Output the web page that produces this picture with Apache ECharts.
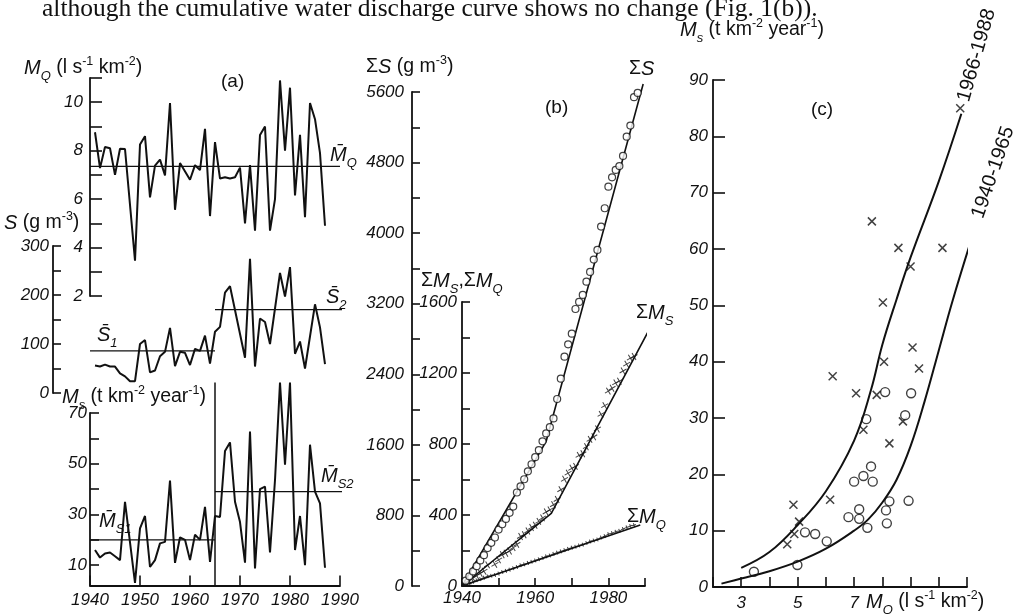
<!DOCTYPE html>
<html><head><meta charset="utf-8">
<script src="https://cdn.jsdelivr.net/npm/echarts@6/dist/echarts.min.js"></script>
<style>html,body{margin:0;padding:0;background:#fff}#c{width:1023px;height:614px}</style>
</head><body><div id="c"></div>
<script>
// ---------- Panel (a) ----------
const mqYears = [1941,1942,1943,1944,1945,1946,1947,1949,1950,1951,1952,1953,1954,1955,1956,1957,1958,1960,1961,1962,1963,1964,1965,1966,1967,1968,1969,1970,1971,1972,1973,1974,1975,1976,1977,1978,1979,1980,1981,1982,1983,1984,1985,1986,1987];
const mqValues = [8.76,7.28,8.15,8.1,7.0,8.08,8.07,3.46,8.25,8.6,6.07,7.38,7.63,6.98,9.97,5.56,7.49,6.8,7.4,7.2,8.9,5.3,8.35,6.85,6.9,6.85,6.9,7.3,5.0,7.4,4.7,8.65,9.0,4.7,6.0,10.9,8.0,10.6,6.15,8.65,5.25,9.97,9.3,7.9,4.9];
const mqMean = 7.35;

const sYears = [1941,1942,1943,1944,1945,1946,1947,1948,1949,1950,1951,1952,1953,1954,1955,1956,1957,1958,1959,1960,1961,1962,1963,1964,1965,1966,1967,1968,1971,1972,1973,1974,1975,1976,1978,1979,1980,1981,1982,1983,1985,1986,1987];
const sValues = [56,54,58,54,54,40,34,24,24,100,108,42,46,75,84,133,55,84,82,57,90,86,117,60,125,135,205,218,72,274,54,152,145,100,245,197,257,80,105,50,181,134,59];
const sMean1 = 86, sMean2 = 170;

const msYears = [1941,1942,1943,1944,1945,1946,1947,1949,1950,1951,1952,1953,1954,1955,1956,1957,1958,1959,1960,1961,1962,1963,1964,1965,1966,1967,1968,1969,1970,1971,1972,1973,1974,1975,1976,1977,1978,1979,1980,1981,1982,1983,1984,1985,1986,1987];
const msValues = [16,13,14.6,15,13.5,12,35,3,24.5,29.4,9.3,12,18.6,19.2,43.4,10.9,21,20,12,22,20,33,11.3,29.4,29,55,58.4,35,27,11,62.7,8.7,40,41,15,43.6,82,49.6,82,16,29.4,10,57.5,39,34.4,9];
const msMean1 = 20, msMean2 = 39;
const breakYear = 1965;

// ---------- Panel (b) ----------
const sumSYears = [];
for (let y = 1941; y <= 1988; y++) sumSYears.push(y);
const sumSValues = [60,110,165,225,290,350,430,490,550,640,700,760,830,900,1060,1130,1210,1300,1380,1460,1540,1640,1730,1800,1900,2120,2350,2600,2740,2860,3140,3220,3300,3450,3560,3700,3810,4074,4282,4527,4633,4717,4760,4875,5094,5219,5541,5590];
const sumSFit = [[1940,0],[1963,1640],[1989.5,5690]];

const sumMsYears = msYears;
const sumMsValues = [16,29,44,59,72,84,119,122,147,176,185,197,216,235,279,289,310,330,342,364,384,417,429,458,487,542,601,636,663,674,736,745,785,826,841,885,967,1016,1098,1114,1144,1154,1211,1250,1284,1293];
const sumMsFit = [[1940,0],[1964.4,409],[1992.3,1489]];

const sumMqYears = [];
for (let y = 1941; y <= 1987; y++) sumMqYears.push(y);
const sumMqValues = [9,16,24,32,39,47,55,58,62,70,79,85,92,100,107,117,122,130,137,144,151,158,167,172,181,188,195,202,209,216,221,228,233,242,251,256,262,273,281,292,298,306,311,321,330,338,343];
const sumMqFit = [[1940,0],[1988.7,344]];

// ---------- Panel (c) ----------
const late_Q  = [4.85,5.05,4.88,4.63,6.24,6.15,7.07,7.33,7.8,8.06,8.02,8.25,8.73,9.07,9.3,7.63,8.57,9.0,10.13,10.76,11.11];
const late_Ms = [14.6,11.6,9.4,7.6,37.4,15.5,34.4,27.9,34.1,40.0,50.5,25.5,29.4,42.5,38.8,64.9,60.2,56.9,60.2,85,85.3];
const early_Q  = [3.45,4.99,5.26,5.62,6.03,6.8,7.18,7.18,7.0,7.33,7.6,7.66,7.43,7.47,8.1,8.13,8.25,8.16,8.81,8.93,9.02];
const early_Ms = [2.7,3.9,9.7,9.4,8.1,12.4,12.1,13.8,18.7,19.7,21.4,18.7,29.8,10.5,34.6,13.6,15.2,11.3,30.5,15.3,34.4];
const curveLateQ  = [3.0,4.0,5.0,6.0,7.0,7.6,8.0,8.5,9.0,10.0,10.8];
const curveLateMs = [3.4,6.2,11,17,26,35,43,51,58.5,72,84];
const curveEarlyQ  = [2.3,3.0,4.0,5.0,6.0,7.0,7.5,8.0,8.5,9.0,9.5,10.0,10.5,11.3];
const curveEarlyMs = [0.6,1.5,2.8,4.5,6.8,10,12,15,19,25,33,42,51,64];

const zip = (a, b) => a.map((v, i) => [v, b[i]]);

const FONT = '"Liberation Sans", Arial, sans-serif';
const INK = '#111';
const lab = (extra) => Object.assign({color: INK, fontStyle: 'italic', fontSize: 17, fontFamily: FONT}, extra || {});
const axLine = {show: true, lineStyle: {color: INK, width: 1.8}};
const tick = (len) => ({show: true, inside: true, length: len, lineStyle: {color: INK, width: 1.6}});

const chart = echarts.init(document.getElementById('c'), null, {renderer: 'canvas'});

const grids = [
  {left: 90, top: 78, width: 250, height: 218},     // 0 MQ
  {left: 90, top: 246, width: 250, height: 147},    // 1 S
  {left: 90, top: 413, width: 250, height: 172.5},  // 2 Ms
  {left: 462, top: 92, width: 183, height: 494},    // 3 sum S
  {left: 462, top: 302, width: 183, height: 284},   // 4 sum Ms, MQ
  {left: 713, top: 80, width: 254, height: 507}     // 5 (c)
];

const xHidden = (gi) => ({type: 'value', gridIndex: gi, min: 1940, max: 1990, show: false});

const xAxes = [
  xHidden(0), xHidden(1),
  {type: 'value', gridIndex: 2, min: 1940, max: 1990, interval: 10, axisLine: axLine, axisTick: tick(10),
   axisLabel: lab({margin: 6, formatter: v => String(v)}), splitLine: {show: false}},
  xHidden(3),
  {type: 'value', gridIndex: 4, min: 1940, max: 1990, interval: 10, axisLine: axLine, axisTick: tick(8),
   axisLabel: lab({margin: 4, formatter: v => (v % 20 === 0 && v < 1990) ? String(v) : ''}), splitLine: {show: false}},
  {type: 'value', gridIndex: 5, min: 2, max: 11, interval: 1, axisLine: axLine, axisTick: tick(10),
   axisLabel: lab({margin: 8, formatter: v => (v === 3 || v === 5 || v === 7) ? String(v) : ''}), splitLine: {show: false}}
];

const yAxes = [
  {type: 'value', gridIndex: 0, min: 2, max: 11, interval: 1, axisLine: axLine, axisTick: tick(12),
   axisLabel: lab({margin: 7, formatter: v => v % 2 === 0 ? String(v) : ''}), splitLine: {show: false}},
  {type: 'value', gridIndex: 1, min: 0, max: 300, interval: 50, offset: 37, axisLine: axLine, axisTick: tick(8),
   axisLabel: lab({margin: 4, formatter: v => v % 100 === 0 ? String(v) : ''}), splitLine: {show: false}},
  {type: 'value', gridIndex: 2, min: 2, max: 70, axisLine: axLine,
   axisTick: Object.assign(tick(9), {customValues: [10,20,30,40,50,60,70]}),
   axisLabel: lab({margin: 3, customValues: [10,30,50,70]}), splitLine: {show: false}},
  {type: 'value', gridIndex: 3, min: 0, max: 5600, interval: 400, offset: 50, axisLine: axLine, axisTick: tick(8),
   axisLabel: lab({margin: 8, formatter: v => v % 800 === 0 ? String(v) : ''}), splitLine: {show: false}},
  {type: 'value', gridIndex: 4, min: 0, max: 1600, interval: 200, axisLine: axLine, axisTick: tick(8),
   axisLabel: lab({margin: 5, formatter: v => v % 400 === 0 ? String(v) : ''}), splitLine: {show: false}},
  {type: 'value', gridIndex: 5, min: 0, max: 90, interval: 10, axisLine: axLine, axisTick: tick(12),
   axisLabel: lab({margin: 5, formatter: v => String(v)}), splitLine: {show: false}}
];

const line = (xi, data, w, extra) => Object.assign({
  type: 'line', xAxisIndex: xi, yAxisIndex: xi, data, showSymbol: false, symbol: 'none', clip: false,
  lineStyle: {color: INK, width: w}, silent: true, animation: false
}, extra || {});

const crossPath = 'path://M0,0L10,10M10,0L0,10';
const plusPath = 'path://M5,0L5,10M0,5L10,5';

const series = [
  line(0, zip(mqYears, mqValues), 2),
  line(0, [[1940, mqMean], [1990, mqMean]], 1.3),
  line(1, zip(sYears, sValues), 2),
  line(1, [[1940, sMean1], [breakYear, sMean1]], 1.3),
  line(1, [[breakYear, sMean2], [1990.6, sMean2]], 1.3),
  line(2, zip(msYears, msValues), 2),
  line(2, [[1940, msMean1], [breakYear, msMean1]], 1.3),
  line(2, [[breakYear, msMean2], [1991.5, msMean2]], 1.3),
  line(2, [[breakYear, 2], [breakYear, 82]], 1.5),
  // (b)
  line(3, sumSFit, 1.6),
  {type: 'scatter', xAxisIndex: 3, yAxisIndex: 3, data: zip(sumSYears, sumSValues), symbol: 'circle', symbolSize: 7,
   itemStyle: {color: '#fff', borderColor: INK, borderWidth: 1.2}, silent: true, animation: false, z: 3},
  line(4, sumMsFit, 1.6),
  {type: 'scatter', xAxisIndex: 4, yAxisIndex: 4, data: zip(sumMsYears, sumMsValues), symbol: plusPath, symbolSize: 8, symbolRotate: 30,
   itemStyle: {color: 'none', borderColor: INK, borderWidth: 1}, silent: true, animation: false},
  line(4, sumMqFit, 1.6),
  {type: 'scatter', xAxisIndex: 4, yAxisIndex: 4, data: zip(sumMqYears, sumMqValues), symbol: plusPath, symbolSize: 4, symbolRotate: 20,
   itemStyle: {color: 'none', borderColor: INK, borderWidth: 1}, silent: true, animation: false},
  // (c)
  line(5, zip(curveLateQ, curveLateMs), 2, {smooth: 0.4}),
  line(5, zip(curveEarlyQ, curveEarlyMs), 2, {smooth: 0.4}),
  {type: 'scatter', xAxisIndex: 5, yAxisIndex: 5, data: zip(late_Q, late_Ms), symbol: crossPath, symbolSize: 8,
   itemStyle: {color: 'none', borderColor: INK, borderWidth: 1.5}, silent: true, animation: false},
  {type: 'scatter', xAxisIndex: 5, yAxisIndex: 5, data: zip(early_Q, early_Ms), symbol: 'circle', symbolSize: 9,
   itemStyle: {color: '#fff', borderColor: INK, borderWidth: 1.4}, silent: true, animation: false}
];

// ---------- Text ----------
const rich = {
  t: {fontSize: 19.5, fontFamily: FONT, fill: INK},
  i: {fontSize: 20, fontFamily: FONT, fontStyle: 'italic', fill: INK},
  sub: {fontSize: 13, fontFamily: FONT, fontStyle: 'italic', fill: INK, verticalAlign: 'bottom', padding: [0, 0, -5, 0]},
  sup: {fontSize: 12.5, fontFamily: FONT, fill: INK, verticalAlign: 'top', padding: [-3, 0, 0, 0]}
};
const T = (x, y, text, o) => ({type: 'text', x, y, silent: true, z: 100,
  style: Object.assign({text, fill: INK, fontSize: 17, fontFamily: FONT, rich,
    textAlign: 'left', textVerticalAlign: 'middle', align: 'left', verticalAlign: 'middle'}, o || {})});

const graphics = [
  T(42, 9, 'although the cumulative water discharge curve shows no change (Fig. 1(b)).',
    {fontSize: 25.5, fontFamily: '"Liberation Serif", "Times New Roman", serif', rich: null}),
  // (a)
  T(24, 68, '{i|M}{sub|Q}{t| (l s}{sup|-1}{t| km}{sup|-2}{t|)}'),
  T(221, 82, '(a)', {fontSize: 19}),
  T(4, 223, '{i|S}{t| (g m}{sup|-3}{t|)}'),
  T(330, 155, '{i|M\u0304}{sub|Q}'),
  T(97, 335, '{i|S\u0304}{sub|1}'),
  T(326, 297, '{i|S\u0304}{sub|2}'),
  T(62, 397, '{i|M}{sub|s}{t| (t km}{sup|-2}{t| year}{sup|-1}{t|)}'),
  T(321, 476, '{i|M\u0304}{sub|S2}'),
  T(99, 521, '{i|M\u0304}{sub|S1}'),
  // (b)
  T(366, 67, '{t|\u03A3}{i|S}{t| (g m}{sup|-3}{t|)}'),
  T(545, 108, '(b)', {fontSize: 19}),
  T(629, 69, '{t|\u03A3}{i|S}'),
  T(636, 313, '{t|\u03A3}{i|M}{sub|S}'),
  T(627, 517, '{t|\u03A3}{i|M}{sub|Q}'),
  T(421, 281, '{t|\u03A3}{i|M}{sub|S}{t|,\u03A3}{i|M}{sub|Q}'),
  // (c)
  T(680, 30, '{i|M}{sub|s}{t| (t km}{sup|-2}{t| year}{sup|-1}{t|)}'),
  T(811, 110, '(c)', {fontSize: 19}),
  T(866, 602, '{i|M}{sub|Q}{t| (l s}{sup|-1}{t| km}{sup|-2}{t|)}'),
  {type: 'text', x: 973, y: 104, rotation: 74 * Math.PI / 180, silent: true, z: 100,
   style: {text: '1966-1988', fill: INK, fontSize: 20, fontFamily: FONT, textVerticalAlign: 'bottom', verticalAlign: 'bottom'}},
  {type: 'text', x: 987, y: 221, rotation: 71 * Math.PI / 180, silent: true, z: 100,
   style: {text: '1940-1965', fill: INK, fontSize: 20, fontFamily: FONT, textVerticalAlign: 'bottom', verticalAlign: 'bottom'}}
];

chart.setOption({
  backgroundColor: '#fff',
  animation: false,
  grid: grids,
  xAxis: xAxes,
  yAxis: yAxes,
  series,
  graphic: graphics
});
</script></body></html>
